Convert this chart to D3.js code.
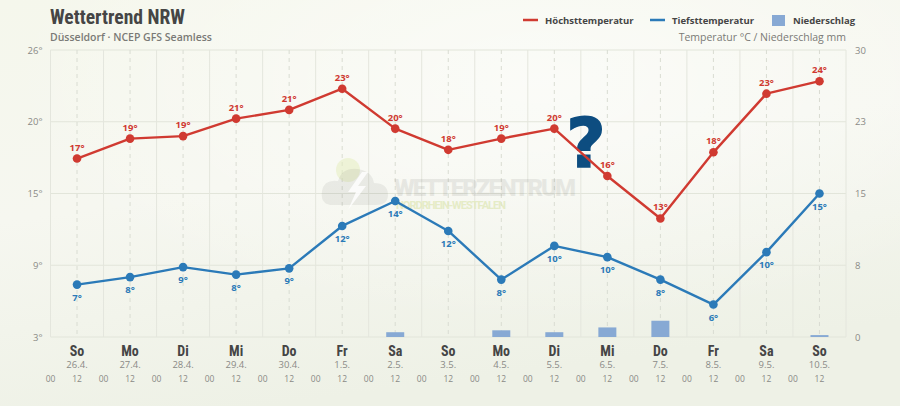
<!DOCTYPE html>
<html><head><meta charset="utf-8">
<script src="https://cdn.jsdelivr.net/npm/d3@7"></script>
<style>
html,body{margin:0;padding:0;}
body{width:900px;height:406px;overflow:hidden;}
svg{display:block;}
</style></head>
<body>
<svg id="c" width="900" height="406"></svg>
<script>
const weekdays = ["So","Mo","Di","Mi","Do","Fr","Sa","So","Mo","Di","Mi","Do","Fr","Sa","So"];
const dates = ["26.4.","27.4.","28.4.","29.4.","30.4.","1.5.","2.5.","3.5.","4.5.","5.5.","6.5.","7.5.","8.5.","9.5.","10.5."];
const maxTemp = [17.4,19.0,19.2,20.6,21.3,23.0,19.8,18.1,19.0,19.8,16.0,12.6,17.9,22.6,23.6];
const minTemp = [7.3,7.9,8.7,8.1,8.6,12.0,14.0,11.6,7.7,10.4,9.5,7.7,5.7,9.9,14.6];
const precip = [0,0,0,0,0,0,0.5,0,0.7,0.5,1.0,1.7,0,0,0.2];
const tempDomain = [3.1, 26.1];
const precipDomain = [0, 30];

const svg = d3.select("#c");
const W=900,H=406;
const L=50.5,R=846,T=50,B=337;

// background
const defs = svg.append("defs");
const g1 = defs.append("linearGradient").attr("id","bg").attr("x1","0").attr("y1","0").attr("x2","0.3").attr("y2","1");
g1.append("stop").attr("offset","0").attr("stop-color","#f5f7ec");
g1.append("stop").attr("offset","0.5").attr("stop-color","#f6f7f0");
g1.append("stop").attr("offset","1").attr("stop-color","#eef1e6");
svg.append("rect").attr("width",W).attr("height",H).attr("fill","url(#bg)");
const g2 = defs.append("radialGradient").attr("id","glow").attr("cx","0.6").attr("cy","0.2").attr("r","0.6");
g2.append("stop").attr("offset","0").attr("stop-color","#ffffff").attr("stop-opacity",0.55);
g2.append("stop").attr("offset","1").attr("stop-color","#ffffff").attr("stop-opacity",0);
svg.append("rect").attr("width",W).attr("height",H).attr("fill","url(#glow)");

const t0 = Date.UTC(2026,3,26,0,0);
const t1 = Date.UTC(2026,4,11,0,0);
const x = d3.scaleUtc().domain([new Date(t0), new Date(t1)]).range([L,R]);
const noon = i => new Date(t0 + (i*24+12)*3600e3);
const midnight = i => new Date(t0 + (i*24)*3600e3);
const y = d3.scaleLinear().domain(tempDomain).range([B,T]);
const yp = d3.scaleLinear().domain(precipDomain).range([B,T]);

const grid = svg.append("g");
const yt = d3.range(5).map(k => tempDomain[0] + k*(tempDomain[1]-tempDomain[0])/4);
grid.selectAll("line.h").data(yt).join("line")
  .attr("x1",L).attr("x2",R).attr("y1",d=>y(d)).attr("y2",d=>y(d))
  .attr("stroke","#e2e5da").attr("stroke-width",1);
const mids = d3.range(16).map(midnight);
grid.selectAll("line.v").data(mids).join("line")
  .attr("x1",d=>x(d)).attr("x2",d=>x(d)).attr("y1",T).attr("y2",B)
  .attr("stroke","#e4e6dd").attr("stroke-width",1);
const noons = d3.range(15).map(noon);
grid.selectAll("line.n").data(noons).join("line")
  .attr("x1",d=>x(d)).attr("x2",d=>x(d)).attr("y1",T).attr("y2",B)
  .attr("stroke","#d9dcd2").attr("stroke-width",1).attr("stroke-dasharray","4,4");

// watermark
const wm = svg.append("g");
wm.append("circle").attr("cx",348).attr("cy",170).attr("r",12).attr("fill","#e6eec0").attr("opacity",0.55);
wm.append("path").attr("d","M330,205 q-10,-2 -8,-14 q2,-12 16,-10 q4,-14 20,-12 q14,2 16,14 q14,0 14,12 q0,10 -12,10 z")
  .attr("fill","#000").attr("opacity",0.06);
wm.append("path").attr("d","M362,172 l-14,20 l8,0 l-8,18 l18,-24 l-8,0 l10,-14 z").attr("fill","#fff").attr("opacity",0.8);
wm.append("text").attr("x",394).attr("y",196).text("WETTERZENTRUM")
  .attr("font-family","Roboto, 'DejaVu Sans', sans-serif").attr("font-weight",900).attr("font-size",24)
  .attr("textLength",182).attr("fill","#000").attr("opacity",0.065);
wm.append("text").attr("x",396).attr("y",209).text("NORDRHEIN-WESTFALEN")
  .attr("font-family","Roboto, 'DejaVu Sans', sans-serif").attr("font-weight",700).attr("font-size",11)
  .attr("textLength",110).attr("fill","#e3eabf").attr("opacity",0.85);

// question mark
svg.append("text").attr("x",586).attr("y",167).attr("text-anchor","middle").text("?")
  .attr("font-family","'DejaVu Sans', sans-serif").attr("font-weight",700).attr("font-size",68)
  .attr("stroke","#0d4d80").attr("stroke-width",1.5).attr("fill","#0d4d80");

// precipitation bars
svg.append("g").selectAll("rect").data(precip.map((v,i)=>({v,i})).filter(d=>d.v>0)).join("rect")
  .attr("x",d=>x(noon(d.i))-9).attr("width",18)
  .attr("y",d=>yp(d.v)).attr("height",d=>B-yp(d.v))
  .attr("fill","#87a9d4");

// lines
const red="#d03a31", blue="#2b7ab8";
function series(vals,color,above){
  const pts = vals.map((v,i)=>({t:noon(i),v}));
  const g = svg.append("g");
  g.append("path").datum(pts).attr("fill","none").attr("stroke",color).attr("stroke-width",2.4)
    .attr("stroke-linejoin","round")
    .attr("d",d3.line().x(d=>x(d.t)).y(d=>y(d.v)));
  g.selectAll("circle").data(pts).join("circle").attr("cx",d=>x(d.t)).attr("cy",d=>y(d.v)).attr("r",4.3).attr("fill",color);
  g.selectAll("text").data(pts).join("text")
    .attr("x",d=>x(d.t)).attr("y",d=>y(d.v)+(above?-8:16))
    .attr("text-anchor","middle").text(d=>Math.round(d.v)+"°")
    .attr("font-family","'Open Sans', 'Noto Sans', sans-serif").attr("font-weight",700).attr("font-size",9.5)
    .attr("fill",color);
}
series(maxTemp,red,true);
series(minTemp,blue,false);

// axes
const font="'Open Sans', 'Noto Sans', sans-serif";
const yAxis = d3.axisLeft(y).tickValues(yt).tickFormat(d=>Math.round(d)+"°").tickSize(0).tickPadding(8);
const ga = svg.append("g").attr("transform",`translate(${L},0)`).call(yAxis);
ga.select(".domain").remove();
ga.selectAll("text").attr("font-family",font).attr("font-size",9.5).attr("fill","#8a8a86");
const ypt = d3.range(5).map(k=>precipDomain[0]+k*(precipDomain[1]-precipDomain[0])/4);
const yAxisR = d3.axisRight(yp).tickValues(ypt).tickFormat(d=>Math.round(d+1e-9)).tickSize(0).tickPadding(9);
const gr = svg.append("g").attr("transform",`translate(${R},0)`).call(yAxisR);
gr.select(".domain").remove();
gr.selectAll("text").attr("font-family",font).attr("font-size",9.5).attr("fill","#8a8a86");

// x labels
const xl = svg.append("g");
xl.selectAll("text.wd").data(weekdays).join("text")
  .attr("x",(d,i)=>x(noon(i))).attr("y",356).attr("text-anchor","middle").text(d=>d)
  .attr("font-family","'Roboto Condensed','DejaVu Sans Condensed','DejaVu Sans',sans-serif").attr("font-weight",700).attr("font-size",14)
  .attr("fill","#454545");
xl.selectAll("text.dt").data(dates).join("text")
  .attr("x",(d,i)=>x(noon(i))).attr("y",367.5).attr("text-anchor","middle").text(d=>d)
  .attr("font-family",font).attr("font-size",9.5).attr("fill","#8a8a86");
const hours = [];
d3.range(15).forEach(i=>{hours.push({t:midnight(i),l:"00"});hours.push({t:noon(i),l:"12"});});
xl.selectAll("text.hr").data(hours).join("text")
  .attr("x",d=>x(d.t)).attr("y",382).attr("text-anchor","middle").text(d=>d.l)
  .attr("font-family",font).attr("font-size",8.5).attr("fill","#8a8a86");

// title
svg.append("text").attr("x",50).attr("y",24).text("Wettertrend NRW")
  .attr("font-family","'Roboto Condensed','DejaVu Sans Condensed',sans-serif").attr("font-weight",700).attr("font-size",20)
  .attr("textLength",135).attr("lengthAdjust","spacingAndGlyphs").attr("fill","#454545");
svg.append("text").attr("x",50).attr("y",41).text("Düsseldorf · NCEP GFS Seamless")
  .attr("font-family",font).attr("font-weight",600).attr("font-size",10.5).attr("fill","#7a7a76");
svg.append("text").attr("x",846).attr("y",41).attr("text-anchor","end").text("Temperatur °C / Niederschlag mm")
  .attr("font-family",font).attr("font-size",10.5).attr("fill","#7a7a76");

// legend
const lg = svg.append("g").attr("font-family",font).attr("font-weight",700).attr("font-size",9.5).attr("fill","#454545");
lg.append("line").attr("x1",523).attr("x2",538).attr("y1",20).attr("y2",20).attr("stroke",red).attr("stroke-width",2.5);
lg.append("text").attr("x",545).attr("y",23.5).text("Höchsttemperatur");
lg.append("line").attr("x1",650).attr("x2",665).attr("y1",20).attr("y2",20).attr("stroke",blue).attr("stroke-width",2.5);
lg.append("text").attr("x",672).attr("y",23.5).text("Tiefsttemperatur");
lg.append("rect").attr("x",772).attr("y",15).attr("width",13).attr("height",11).attr("fill","#87a9d4");
lg.append("text").attr("x",793).attr("y",23.5).text("Niederschlag");
</script>
</body></html>
